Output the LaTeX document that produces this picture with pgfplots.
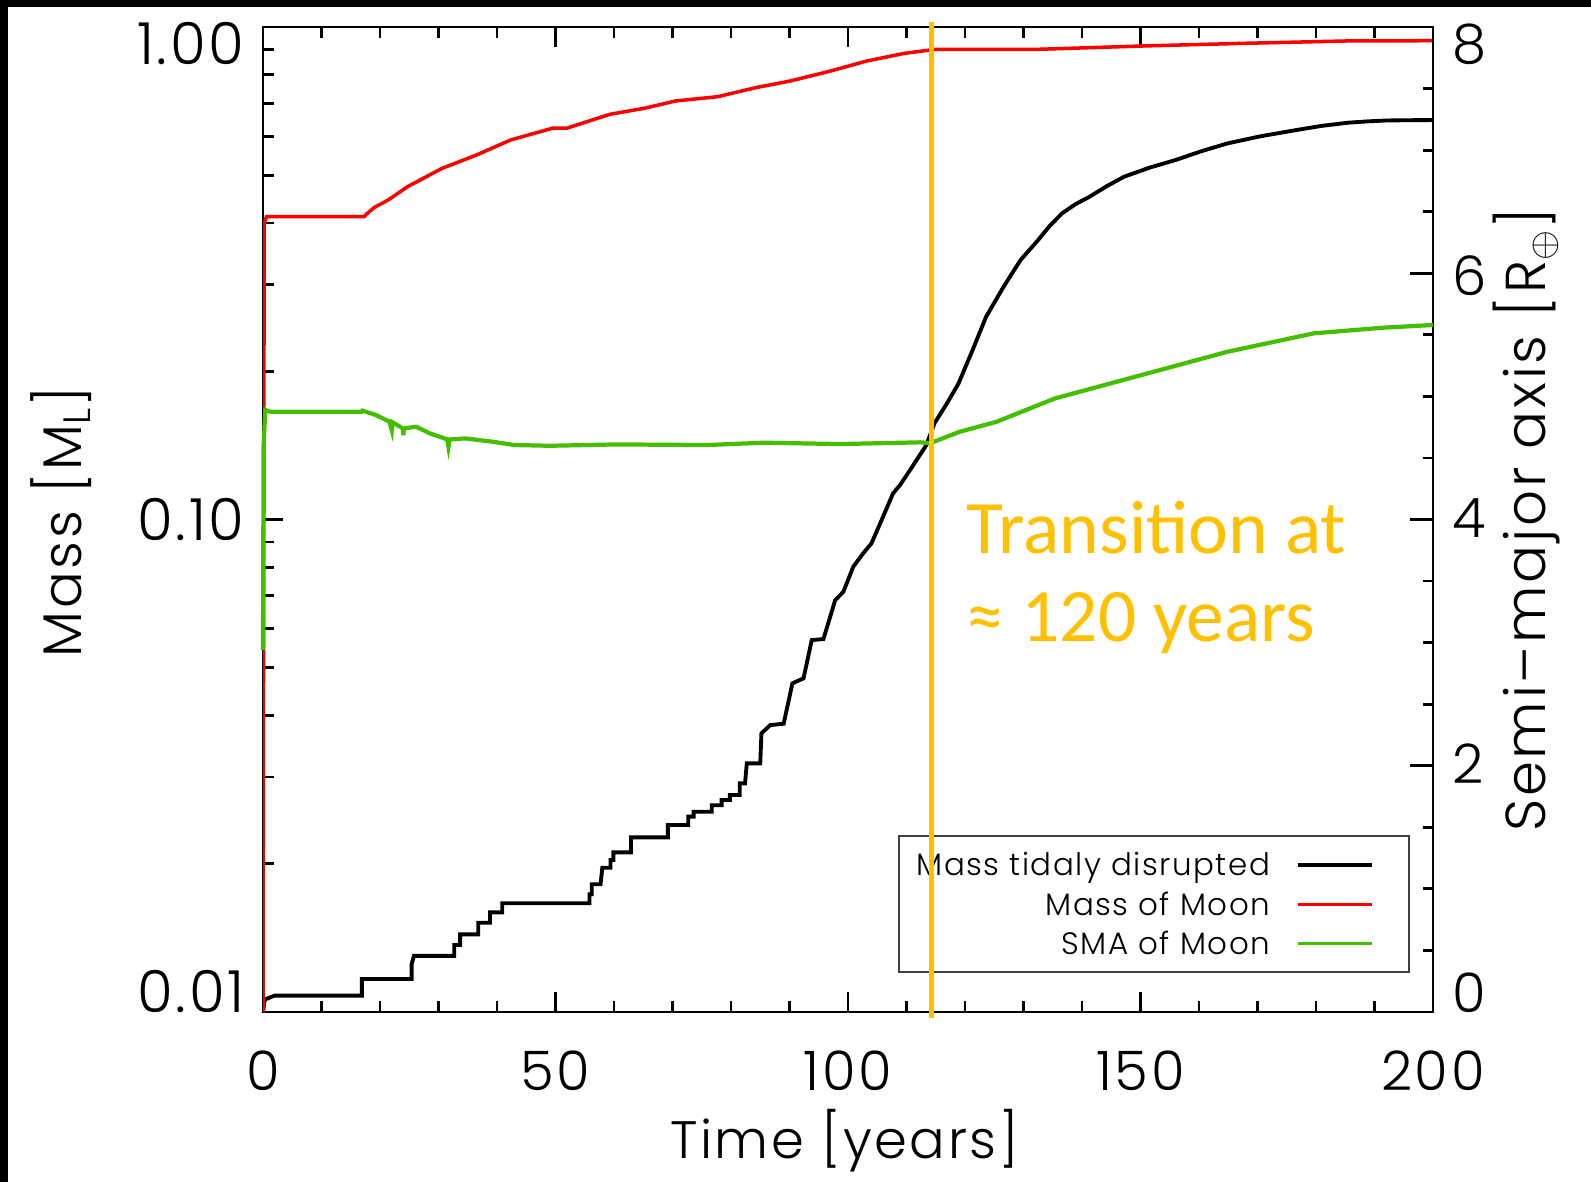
\documentclass[border=0pt]{standalone}
\usepackage{fontspec}
\usepackage{pgfplots}
\pgfplotsset{compat=1.18}
\setmainfont{Poppins Light}[LetterSpace=5]
\newfontfamily\calibri{Carlito}
\definecolor{idlred}{RGB}{255,0,0}
\definecolor{idlgreen}{RGB}{70,190,0}
\definecolor{gold}{RGB}{255,192,0}

\begin{document}
\begin{tikzpicture}
% page: white sheet with a dark top and left margin
\useasboundingbox (0,0) rectangle (159.1mm,118.2mm);
\fill[white] (0,0) rectangle (159.1mm,118.2mm);
\fill[black] (0,117.5mm) rectangle (159.1mm,118.2mm);
\fill[black] (0,0) rectangle (0.83mm,118.2mm);

% left axis: masses on a log scale
\begin{axis}[
  at={(26.3mm,17.0mm)}, anchor=south west,
  scale only axis, width=117mm, height=98.5mm,
  xmin=0, xmax=200,
  ymode=log, ymin=0.01, ymax=1,
  xtick={0,50,...,200}, minor x tick num=4,
  ytick={0.01,0.1,1},
  yticklabels={0.01,\raisebox{-6pt}{0.10},\raisebox{-10.8pt}{1.00}},
  minor ytick={0.02,0.03,0.04,0.05,0.06,0.07,0.08,0.09,0.2,0.3,0.4,0.5,0.6,0.7,0.8,0.9},
  ytick pos=left, xtick pos=both,
  tick align=inside,
  major tick length=5.7pt, minor tick length=3.2pt,
  axis line style={line width=0.8pt},
  tick style={line width=0.8pt, black},
  /pgf/number format/assume math mode=true,
  ticklabel style={inner sep=0pt},
  xticklabel style={anchor=base, yshift=-22.2pt, font=\fontsize{15.5}{17}\selectfont},
  yticklabel style={anchor=base east, xshift=-5pt, font=\fontsize{16.5}{18}\selectfont},
  xlabel={Time [years]},
  xlabel style={at={(axis description cs:0.497,-0.131)}, anchor=center, font=\fontsize{15}{17}\selectfont},
  ylabel={Mass [M\textsubscript{L}]},
  ylabel style={at={(axis description cs:-0.1726,0.4975)}, anchor=center, font=\fontsize{15.5}{17}\selectfont},
]
% mass removed by tidal disruption
\addplot[black, line width=1.1pt] coordinates {
(0,0.0100) (0.3,0.0106) (2,0.0108) (16.9,0.0108) (16.9,0.01167) (25.4,0.01167)
(25.4,0.0125) (25.8,0.0130) (32.7,0.0130) (32.7,0.01368) (33.7,0.01368) (33.7,0.01438)
(36.8,0.01438) (36.8,0.01518) (38.8,0.01518) (38.8,0.01594) (40.9,0.01594) (40.9,0.01663)
(55.8,0.01663) (55.8,0.01734) (56.2,0.01734) (56.2,0.01817) (57.7,0.01817) (58.0,0.01963)
(59.4,0.01963) (59.4,0.02035) (59.9,0.02035) (59.9,0.0211) (62.9,0.0211) (62.9,0.02263)
(69.2,0.02263) (69.2,0.02397) (72.7,0.02397) (72.7,0.02493) (73.6,0.02493) (73.6,0.02551)
(76.7,0.02551) (76.7,0.02629) (78.4,0.02629) (78.4,0.02695) (79.8,0.02695) (79.8,0.02758)
(81.5,0.02758) (81.5,0.02913) (82.4,0.02913) (82.7,0.03199) (85.0,0.03199) (85.2,0.0368)
(86.7,0.03825) (89.0,0.0385) (90.5,0.0465) (92.4,0.0476) (93.8,0.0569) (95.8,0.0572)
(97.3,0.0655) (97.8,0.0686) (99.2,0.0713) (100.9,0.0802) (102.6,0.0854) (104.0,0.0894)
(105.5,0.0982) (107.7,0.113) (108.9,0.1175) (110.6,0.126) (113.4,0.1417) (114.8,0.157)
(116.9,0.172) (118.9,0.189) (121.3,0.2209) (123.6,0.258) (126.6,0.297) (129.5,0.3365)
(132.5,0.3694) (134.5,0.395) (136.6,0.4185) (138.9,0.437) (141.3,0.4523) (144.2,0.475)
(147.2,0.4966) (151.5,0.518) (156.0,0.537) (160.5,0.560) (164.9,0.5805) (170.5,0.600)
(176.7,0.618) (181.0,0.630) (185.5,0.6394) (189.0,0.6435) (192.0,0.6460) (195.5,0.6468)
(200,0.6474)
};
% mass of the moon
\addplot[idlred, line width=1.0pt] coordinates {
(0,0.01) (0.2,0.40) (0.6,0.412) (17.3,0.412) (17.5,0.415) (19,0.43) (21.4,0.4454)
(24.7,0.474) (30.6,0.5164) (36.5,0.5497) (42.3,0.5896) (49.5,0.6231) (52,0.6235)
(59.3,0.665) (65.2,0.6839) (70.5,0.7076) (77.7,0.722) (84.2,0.7531) (90.1,0.777)
(96.6,0.8117) (103.2,0.853) (109.7,0.8844) (114.0,0.898) (114.2,0.901) (132.5,0.901)
(150.2,0.915) (167.8,0.9267) (185.5,0.937) (200,0.938)
};
% legend box
\draw[black!75, line width=0.6pt, fill=white]
  (axis description cs:0.5436,0.0406) rectangle (axis description cs:0.9795,0.1787);
\begin{scope}[every node/.style={anchor=base east, inner sep=0pt, font=\fontsize{8.8}{10}\selectfont}]
\node at (axis description cs:0.8613,0.1381) {Mass tidaly disrupted};
\node at (axis description cs:0.8613,0.0985) {Mass of Moon};
\node at (axis description cs:0.8613,0.0589) {SMA of Moon};
\end{scope}
\draw[black, line width=0.9pt] (axis description cs:0.8846,0.1492) -- (axis description cs:0.9479,0.1492);
\draw[idlred, line width=0.9pt] (axis description cs:0.8846,0.1093) -- (axis description cs:0.9479,0.1093);
\draw[idlgreen, line width=0.9pt] (axis description cs:0.8846,0.0697) -- (axis description cs:0.9479,0.0697);
\end{axis}

% right axis: semi-major axis of the moon
\begin{axis}[
  at={(26.3mm,17.0mm)}, anchor=south west,
  scale only axis, width=117mm, height=98.5mm,
  xmin=0, xmax=200, ymin=0, ymax=8,
  axis x line=none, axis y line*=right,
  ytick={0,2,4,6,8}, minor y tick num=3,
  yticklabels={0,\raisebox{-5.1pt}{2},\raisebox{-5.1pt}{4},\raisebox{-6.2pt}{6},\raisebox{-10.5pt}{8}},
  tick align=inside,
  major tick length=6.5pt, minor tick length=2.9pt,
  axis line style={line width=0.8pt},
  tick style={line width=0.8pt, black},
  ticklabel style={font=\fontsize{15.5}{17}\selectfont, inner sep=0pt},
  yticklabel style={anchor=base west, xshift=5.3pt},
  ylabel={Semi–major axis [R$_\oplus$]},
  ylabel style={at={(axis description cs:1.0803,0.4995)}, anchor=center, font=\fontsize{16}{18}\selectfont},
  clip=false,
]
\addplot[idlgreen, line width=1.2pt] coordinates {
(0,2.94) (0.1,4.6) (0.4,4.89) (1.2,4.876) (16.9,4.876) (17.0,4.884) (19.3,4.849)
(21.6,4.795) (22.0,4.727) (22.1,4.79) (23.9,4.741) (24.0,4.686) (24.1,4.74) (26.2,4.754)
(28.5,4.70) (31.5,4.651) (31.7,4.591) (31.9,4.65) (34.6,4.659) (39.2,4.632) (43.0,4.605)
(49.1,4.599) (60.5,4.61) (75.8,4.605) (85.7,4.624) (98.7,4.613) (112.4,4.627) (114.0,4.619)
(119.1,4.713) (125.4,4.794) (135.4,4.984) (150.2,5.174) (164.9,5.363) (179.6,5.512)
(191.4,5.558) (200,5.58)
};
% transition marker
\addplot[gold, line width=1.4pt] coordinates {(114.3,-0.05) (114.3,8.04)};
\node[anchor=base west, inner sep=0pt, text=gold, font=\calibri\fontsize{21.5}{24}\selectfont]
  at (axis description cs:0.6009,0.466) {Transition at};
\node[anchor=base west, inner sep=0pt, text=gold, font=\calibri\fontsize{21.5}{24}\selectfont]
  at (axis description cs:0.6009,0.3766) {≈ 120 years};
\end{axis}
\end{tikzpicture}
\end{document}
